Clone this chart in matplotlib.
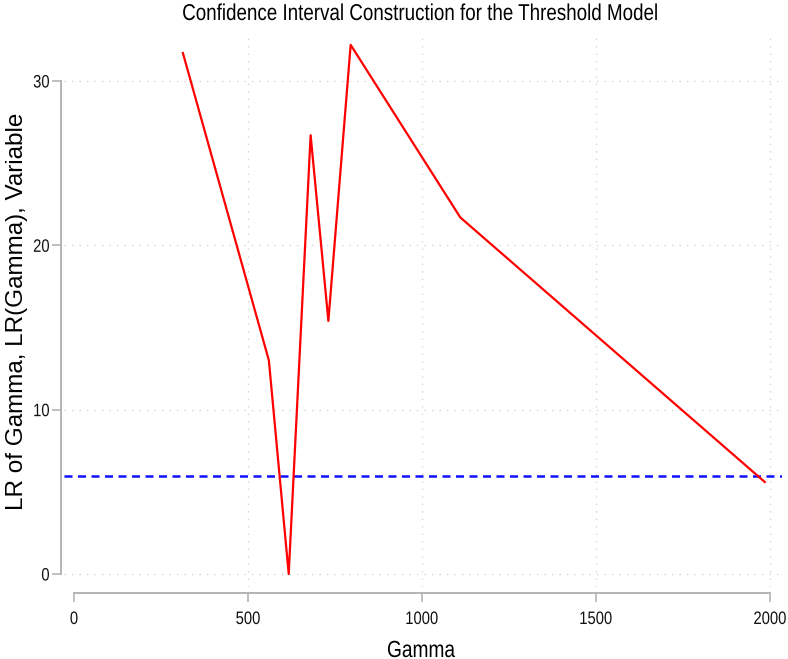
import numpy as np
import matplotlib
matplotlib.use("Agg")
import matplotlib.pyplot as plt
from matplotlib.textpath import TextPath
from matplotlib.patches import PathPatch
from matplotlib.font_manager import FontProperties
from matplotlib.transforms import Affine2D

# LR statistic over the threshold grid
gamma = [313, 560, 617, 680, 731, 795, 1110, 1985]
lr = [31.7, 13.0, 0.0, 26.7, 15.4, 32.2, 21.7, 5.6]
crit = 5.94

xticks = [0, 500, 1000, 1500, 2000]
yticks = [0, 10, 20, 30]

title = 'Confidence Interval Construction for the Threshold Model'
xlabel = 'Gamma'
ylabel = 'LR of Gamma, LR(Gamma), Variable'

W, H = 788, 659
gray = '#b4b4b4'
fp = FontProperties(family='Liberation Sans')


def narrow_text(fig, x, y, s, size, ha='center', sx=0.82, rot=0, color='#111111'):
    # no condensed font installed, so squeeze the glyph outlines by hand
    # x, y are figure pixels (bottom-left origin), y is the baseline
    tp = TextPath((0, 0), s, size=size * 100 / 72, prop=fp)
    bb = tp.get_extents()
    ox = {'left': bb.x0, 'center': (bb.x0 + bb.x1) / 2, 'right': bb.x1}[ha]
    tr = Affine2D().translate(-ox, 0).scale(sx, 1).rotate_deg(rot).translate(x, y)
    fig.add_artist(PathPatch(tp, transform=tr, fc=color, ec='none', lw=0))


fig = plt.figure(figsize=(W / 100, H / 100), dpi=100)
ax = fig.add_axes([64 / W, 1 - 587 / H, 718 / W, 552 / H])

ax.set_xlim(-28.7, 2034.5)
ax.set_ylim(-0.79, 32.8)

# grid, Stata style dotted
for xv in xticks[1:]:
    ax.axvline(xv, color='#cfcfcf', lw=0.9, ls=(0, (1, 5)), zorder=0)
for yv in yticks:
    ax.axhline(yv, color='#cfcfcf', lw=0.9, ls=(0, (1, 5)), zorder=0)

ax.axhline(crit, color='#1010ff', lw=1.8, ls=(0, (3.2, 2.2)), zorder=2)
ax.plot(gamma, lr, color='#ff0000', lw=1.6, zorder=3)

for s in ['top', 'right']:
    ax.spines[s].set_visible(False)
ax.spines['left'].set_position(('outward', 2))
ax.spines['bottom'].set_position(('outward', 4))
ax.spines['left'].set_bounds(0, 30)
ax.spines['bottom'].set_bounds(0, 2000)
for s in ['left', 'bottom']:
    ax.spines[s].set_color(gray)
    ax.spines[s].set_linewidth(1.4)

ax.set_xticks(xticks)
ax.set_yticks(yticks)
ax.set_xticklabels([])
ax.set_yticklabels([])
ax.tick_params(axis='both', color=gray, width=1.2, length=6.5)

# tick labels, placed through the axes' data transform
for xv in xticks:
    px = ax.transData.transform((xv, 0))[0]
    narrow_text(fig, px, H - 624, str(xv), 13)
for yv in yticks:
    py = ax.transData.transform((0, yv))[1]
    narrow_text(fig, 49, py - 6.5, str(yv), 13, ha='right')

narrow_text(fig, 420, H - 20, title, 16.5, color='black')
narrow_text(fig, 421.5, H - 657, xlabel, 16.8, color='black')
fig.text(17 / W, 1 - 311 / H, ylabel, family='Liberation Sans', fontsize=17.5,
         rotation=90, ha='center', va='center')

fig.savefig('out.png', dpi=100)
